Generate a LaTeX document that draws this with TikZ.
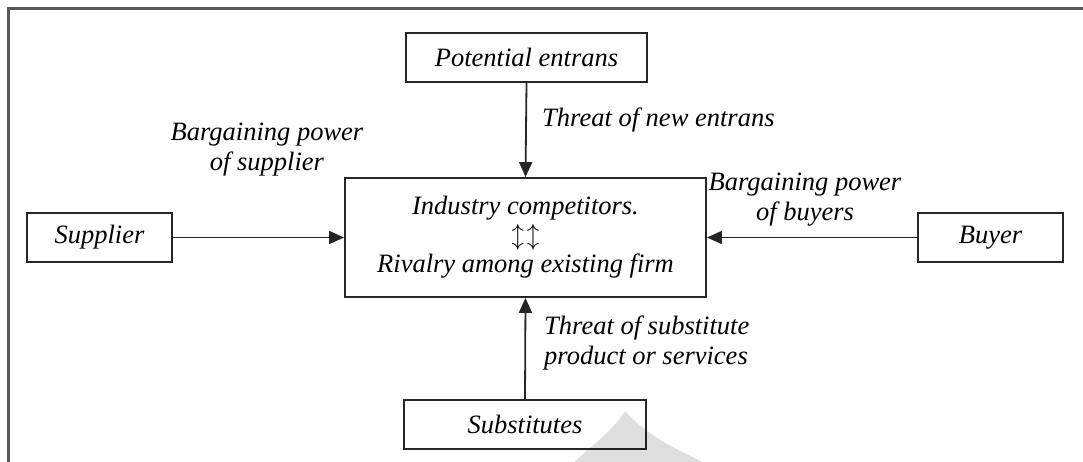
\documentclass[tikz,border=0pt]{standalone}
\usepackage{fontspec}
\setmainfont{Liberation Serif}
\usetikzlibrary{arrows.meta}
\begin{document}
\begin{tikzpicture}[x=1pt,y=-1pt,
  every node/.style={font=\fontsize{26.5}{30}\selectfont\itshape, inner sep=0pt, text=black},
  forcebox/.style={draw=black!85, line width=1.8pt, minimum height=49pt, fill=white},
  push/.style={draw=black!85, line width=1.8pt, -{Triangle[length=15pt,width=13pt]}},
  lbl/.style={align=center}]
\useasboundingbox (0,0) rectangle (1083,462);
% outer frame (only top and left sides fall inside the page)
\draw[line width=2.4pt, black!65] (8.5,470) -- (8.5,8.5) -- (1090,8.5);

% boxes
\node[forcebox, minimum width=241pt] (pot) at (526.5,57.5) {Potential entrans};
\node[draw=black!85, line width=1.8pt, minimum width=361pt, minimum height=119pt,
      align=center] (ind) at (525.5,237.5)
  {Industry competitors.\\[-1pt] $\updownarrow\mkern2mu\updownarrow$\\[-1pt] Rivalry among existing firm};
\node[forcebox, minimum width=145pt] (sup) at (99.5,237.5) {Supplier};
\node[forcebox, minimum width=145pt] (buy) at (990.5,237.5) {Buyer};
\node[forcebox, minimum width=242pt] (sub) at (525,424.5) {Substitutes};

% connectors
\draw[push] (pot.south) -- (ind.north);
\draw[push] (sup.east) -- (ind.west);
\draw[push] (buy.west) -- (ind.east);
\draw[push] (sub.north) -- (ind.south);

% labels
\node[lbl, anchor=west] (lnew) at (542,120) {Threat of new entrans};
\node[lbl] (lsup) at (267,150) {Bargaining power\\of supplier};
\node[lbl] (lbuy) at (805,200) {Bargaining power\\of buyers};
\node[lbl, align=left, anchor=west] (lsub) at (544,343) {Threat of substitute\\product or services};

% faint emblem at the foot of the page
\fill[black, opacity=0.13] (625,411) .. controls (650,440) and (690,455) .. (718,470)
  -- (566,470) .. controls (585,450) and (610,435) .. cycle;
\end{tikzpicture}
\end{document}
